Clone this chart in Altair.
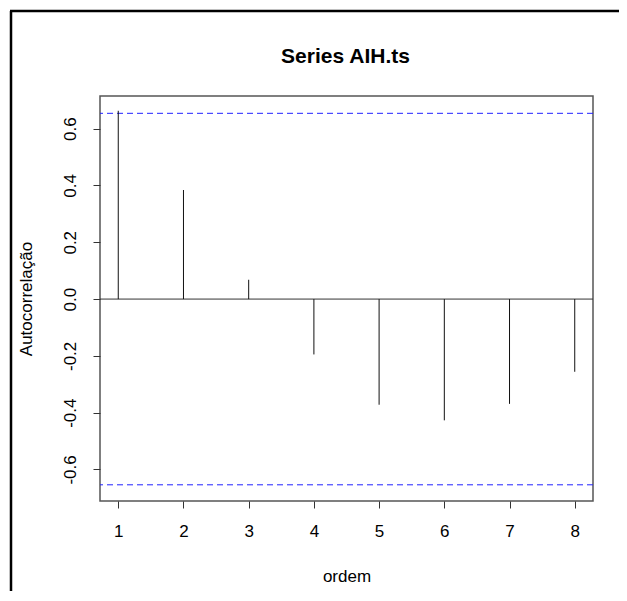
import altair as alt
import pandas as pd

# ---- data ----
lags = [1, 2, 3, 4, 5, 6, 7, 8]
acf_values = [0.663, 0.384, 0.068, -0.195, -0.372, -0.427, -0.369, -0.256]
conf_limits = [0.654, -0.654]
y_ticks = [-0.6, -0.4, -0.2, 0.0, 0.2, 0.4, 0.6]
title_text = "Series AIH.ts"
x_title = "ordem"
y_title = "Autocorrelação"

FONT = "Liberation Sans"
W, H = 493, 405

df = pd.DataFrame({"lag": lags, "acf": acf_values, "zero": [0.0] * len(lags)})
lim_df = pd.DataFrame({"y": conf_limits})
zero_df = pd.DataFrame({"y": [0.0]})
one_df = pd.DataFrame({"a": [0]})
title_df = pd.DataFrame({"t": [title_text]})

xscale = alt.Scale(domain=[0.72, 8.28], nice=False, zero=False)
yscale = alt.Scale(domain=[-0.711, 0.715], nice=False, zero=False)

x_axis = alt.Axis(
    values=lags, format="d", title=x_title,
    labelPadding=15, titleBaseline="middle", titleY=75, titleX=W / 2,
)
y_axis = alt.Axis(
    values=y_ticks, title=y_title,
    labelExpr="datum.value < 0 ? '-' + format(-datum.value, '.1f') : format(datum.value, '.1f')",
    labelAngle=270, labelAlign="center", labelBaseline="bottom", labelPadding=14,
    titleAngle=270, titleAlign="center", titleBaseline="middle", titleX=-74, titleY=H / 2,
)

sticks = alt.Chart(df).mark_rule(color="#111111", strokeWidth=1).encode(
    x=alt.X("lag:Q", scale=xscale, axis=x_axis),
    y=alt.Y("zero:Q", scale=yscale, axis=y_axis),
    y2="acf:Q",
)

zero_line = alt.Chart(zero_df).mark_rule(color="#333333", strokeWidth=1).encode(
    y=alt.Y("y:Q", scale=yscale)
)

limits = alt.Chart(lim_df).mark_rule(color="#2222ff", strokeWidth=1, strokeDash=[6, 4]).encode(
    y=alt.Y("y:Q", scale=yscale)
)

frame_left = alt.Chart(one_df).mark_rule(color="black", strokeWidth=2.5).encode(
    x=alt.value(-89), y=alt.value(-85), y2=alt.value(500)
)
frame_top = alt.Chart(one_df).mark_rule(color="black", strokeWidth=2.5).encode(
    x=alt.value(-90), x2=alt.value(530), y=alt.value(-85)
)

title_mark = alt.Chart(title_df).mark_text(
    font=FONT, fontSize=21, fontWeight="bold", color="black",
    align="center", baseline="middle",
).encode(x=alt.value(W / 2 - 1), y=alt.value(-39), text="t:N")

chart = alt.layer(frame_left, frame_top, limits, zero_line, sticks, title_mark).properties(
    width=W, height=H,
    autosize=alt.AutoSizeParams(type="none"),
    padding={"left": 92, "top": 88, "right": 26, "bottom": 90},
).configure(
    background="white"
).configure_view(
    stroke="#555555", strokeWidth=1.5
).configure_axis(
    domain=False, grid=False, ticks=True, tickSize=7, tickColor="#333333", tickWidth=1,
    labelFont=FONT, labelFontSize=17, labelColor="black",
    titleFont=FONT, titleFontSize=17, titleFontWeight="normal", titleColor="black",
)

chart.save("out.html", embed_options={"renderer": "svg", "actions": False})
